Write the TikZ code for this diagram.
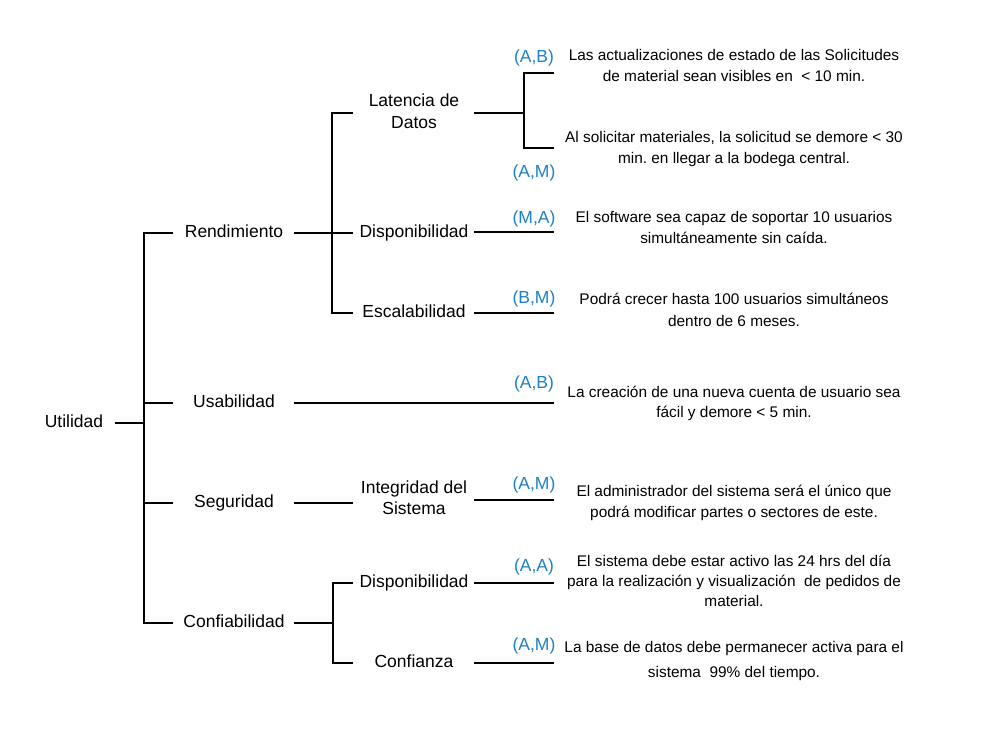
\documentclass[tikz,border=0pt]{standalone}
\usepackage{fontspec}
\setmainfont{Liberation Sans}
\frenchspacing
\definecolor{lblue}{HTML}{1F80C3}
\begin{document}
\begin{tikzpicture}[x=1pt,y=-1pt,
  lbl/.style={font=\fontsize{17.5}{21.5}\selectfont, anchor=base, align=center, inner sep=0pt},
  desc/.style={font=\fontsize{15.4}{20.7}\selectfont, anchor=base, align=center, inner sep=0pt},
  rating/.style={font=\fontsize{17.5}{21}\selectfont, text=lblue, anchor=base, inner sep=0pt},
  ln/.style={line width=2pt, line join=miter}]
\useasboundingbox[fill=white] (0,0) rectangle (981,755);

% labels (anchor = baseline of the last line)
\node[lbl] (ut) at (74,427) {Utilidad};
\node[lbl] (rend) at (234,237) {Rendimiento};
\node[lbl] (usab) at (234,407) {Usabilidad};
\node[lbl] (seg) at (234,507) {Seguridad};
\node[lbl] (conf) at (234,627) {Confiabilidad};
\node[lbl] (lat) at (414,128) {Latencia de\\Datos};
\node[lbl] (dispr) at (414,237.3) {Disponibilidad};
\node[lbl] (esc) at (414,317.3) {Escalabilidad};
\node[lbl] (integ) at (414,514.6) {Integridad del\\Sistema};
\node[lbl] (dispc) at (414,587) {Disponibilidad};
\node[lbl] (confz) at (414,667) {Confianza};

% ratings
\node[rating] (r1) at (534,62) {(A,B)};
\node[rating] (r2) at (534,177) {(A,M)};
\node[rating] (r3) at (534,223) {(M,A)};
\node[rating] (r4) at (534,303) {(B,M)};
\node[rating] (r5) at (534,388.5) {(A,B)};
\node[rating] (r6) at (534,489.5) {(A,M)};
\node[rating] (r7) at (534,571.5) {(A,A)};
\node[rating] (r8) at (534,650.5) {(A,M)};

% descriptions (anchor = baseline of the last line)
\node[desc] (d1) at (734,81.2) {Las actualizaciones de estado de las Solicitudes\\de material sean visibles en \ < 10 min.};
\node[desc] (d2) at (734,163.2) {Al solicitar materiales, la solicitud se demore < 30\\min. en llegar a la bodega central.};
\node[desc] (d3) at (734,243.8) {El software sea capaz de soportar 10 usuarios\\[0.9pt]simultáneamente sin caída.};
\node[desc] (d4) at (734,326.5) {Podrá crecer hasta 100 usuarios simultáneos\\[1pt]dentro de 6 meses.};
\node[desc] (d5) at (734,417.2) {La creación de una nueva cuenta de usuario sea\\[-0.7pt]fácil y demore < 5 min.};
\node[desc] (d6) at (734,517.2) {El administrador del sistema será el único que\\[0.3pt]podrá modificar partes o sectores de este.};
\node[desc] (d7) at (734,606.2) {El sistema debe estar activo las 24 hrs del día\\[-0.7pt]para la realización y visualización \ de pedidos de\\[-0.7pt]material.};
\node[desc] (d8) at (734,677.2) {La base de datos debe permanecer activa para el\\[3.7pt]sistema \ 99\% del tiempo.};

% junction coordinates
\coordinate (u0) at (115,423);
\coordinate (s1) at (144,423);
\coordinate (b1) at (173,233);
\coordinate (b2) at (173,403);
\coordinate (b3) at (173,503);
\coordinate (b4) at (173,623);
\coordinate (rr) at (294,233);
\coordinate (ur) at (294,403);
\coordinate (sr) at (294,503);
\coordinate (cr) at (294,623);
\coordinate (sp2t) at (332,112.7);
\coordinate (sp2b) at (332,313.3);
\coordinate (l2a) at (353,112.7);
\coordinate (l2b) at (353,233);
\coordinate (l2c) at (353,313.3);
\coordinate (l2d) at (353,503);
\coordinate (sp3) at (333,623);
\coordinate (l2e) at (353,583.3);
\coordinate (l2f) at (353,662.7);
\coordinate (latr) at (474,112.7);
\coordinate (sp4) at (524,112.7);
\coordinate (e1) at (554,72.7);
\coordinate (e2) at (554,148.3);
\coordinate (dr0) at (474,232.3);
\coordinate (dr1) at (554,232.3);
\coordinate (es0) at (474,313);
\coordinate (es1) at (554,313);
\coordinate (ue) at (554,403);
\coordinate (ig0) at (474,500);
\coordinate (ig1) at (554,500);
\coordinate (dc0) at (474,583.3);
\coordinate (dc1) at (554,583.3);
\coordinate (cf0) at (474,662.7);
\coordinate (cf1) at (554,662.7);

% connectors
\draw[ln] (u0) -- (s1);
\draw[ln] (b1) -| (s1) |- (b4);
\draw[ln] (s1 |- b2) -- (b2);
\draw[ln] (s1 |- b3) -- (b3);
\draw[ln] (rr) -- (l2b);
\draw[ln] (l2a) -| (sp2t) -- (sp2b) -- (l2c);
\draw[ln] (ur) -- (ue);
\draw[ln] (sr) -- (l2d);
\draw[ln] (cr) -- (sp3);
\draw[ln] (l2e) -| (sp3) |- (l2f);
\draw[ln] (latr) -- (sp4);
\draw[ln] (e1) -| (sp4) |- (e2);
\draw[ln] (dr0) -- (dr1);
\draw[ln] (es0) -- (es1);
\draw[ln] (ig0) -- (ig1);
\draw[ln] (dc0) -- (dc1);
\draw[ln] (cf0) -- (cf1);
\end{tikzpicture}
\end{document}
